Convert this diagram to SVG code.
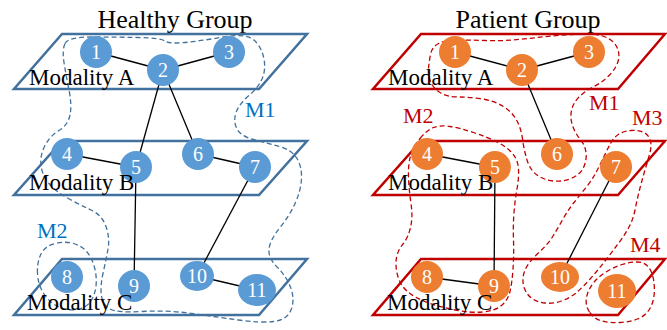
<svg xmlns="http://www.w3.org/2000/svg" width="667" height="330" viewBox="0 0 667 330">
<style>
.pl{fill:none;stroke:#41719C;stroke-width:2.5}
.pr{fill:none;stroke:#C00000;stroke-width:2.5}
.dl{fill:none;stroke:#41719C;stroke-width:1.3;stroke-dasharray:5 3}
.dr{fill:none;stroke:#C00000;stroke-width:1.3;stroke-dasharray:5 3}
.e{stroke:#000;stroke-width:1.3}
.nb{fill:#5B9BD5}
.no{fill:#ED7D31}
.nt{font-family:"Liberation Serif",serif;font-size:20px;fill:#fff;text-anchor:middle}
.mod{font-family:"Liberation Serif",serif;font-size:23px;fill:#000}
.ttl{font-family:"Liberation Serif",serif;font-size:26px;fill:#000;text-anchor:middle}
.ml{font-family:"Liberation Serif",serif;font-size:22px;fill:#0070C0}
.mr{font-family:"Liberation Serif",serif;font-size:22px;fill:#C00000}
</style>
<rect width="667" height="330" fill="#fff"/>
<text class="ttl" x="175" y="28">Healthy Group</text>
<text class="ttl" x="528" y="28">Patient Group</text>
<g id="planes">
<polygon class="pl" points="62,34 307,34 259,89 14,89"/>
<polygon class="pl" points="62,141 307,141 259,195 14,195"/>
<polygon class="pl" points="62,259 307,259 259,315 14,315"/>
<polygon class="pr" points="421,34 665,34 618,89 373,89"/>
<polygon class="pr" points="421,141 665,141 618,195 373,195"/>
<polygon class="pr" points="421,259 665,259 618,315 373,315"/>
</g>
<g id="modules">
<path id="hM1" class="dl" d="M65,43.5 Q68,37 91.5,37 Q115,37 137.5,37.5 Q160,38 165,41 Q170,44 185,42.5 Q200,41 223.5,37 Q247,33 254.5,40.5 Q262,48 264,59 Q266,70 262,79 Q258,88 249,95.5 Q240,103 236.5,111.5 Q233,120 236.5,128 Q240,136 253.5,139.5 Q267,143 279.5,146.5 Q292,150 297,158.5 Q302,167 301.5,178.5 Q301,190 295.5,202.5 Q290,215 280,227.5 Q270,240 269,249 Q268,258 277.5,267.5 Q287,277 291,288.5 Q295,300 291,310 Q287,320 273.5,321.5 Q260,323 238.5,320 Q217,317 192,313.5 Q167,310 142,311.5 Q117,313 110,309 Q103,305 101.5,296 Q100,287 103,273.5 Q106,260 108,249 Q110,238 106,226.5 Q102,215 91,210 Q80,205 67.5,198 Q55,191 48.5,183 Q42,175 41,165 Q40,155 45,145.5 Q50,136 59,130.5 Q68,125 70,115 Q72,105 69,90 Q66,75 64,62.5 Q62,50 65,43.5 Z"/>
<path id="hM2" class="dl" d="M37.5,273.5 Q37,262 41,254 Q45,246 55,243.5 Q65,241 73.5,243.5 Q82,246 87,252 Q92,258 94.5,267.5 Q97,277 96,286 Q95,295 90.5,301.5 Q86,308 77,309.5 Q68,311 59,307 Q50,303 44,294 Q38,285 37.5,273.5 Z"/>
<path id="pM1" class="dr" d="M428.5,68.5 Q429,62 430.5,54.5 Q432,47 438.5,43.5 Q445,40 457.5,40 Q470,40 485,40.5 Q500,41 512.5,40 Q525,39 537.5,37.5 Q550,36 571.5,34.5 Q593,33 602.5,36 Q612,39 616,45.5 Q620,52 618.5,59.5 Q617,67 610,74.5 Q603,82 594,86.5 Q585,91 579,97 Q573,103 571.5,110.5 Q570,118 572.5,125.5 Q575,133 580,139 Q585,145 586,152.5 Q587,160 583.5,167.5 Q580,175 571,178.5 Q562,182 553,181 Q544,180 537,175 Q530,170 527,160 Q524,150 522.5,139 Q521,128 516.5,120 Q512,112 503.5,106.5 Q495,101 482.5,99 Q470,97 458.5,97 Q447,97 440,92.5 Q433,88 430.5,81.5 Q428,75 428.5,68.5 Z"/>
<path id="pM2" class="dr" d="M420,138.5 Q427,130 433.5,127.5 Q440,125 450,126.5 Q460,128 473.5,132.5 Q487,137 497,142 Q507,147 512.5,153.5 Q518,160 518.5,169 Q519,178 517,189 Q515,200 514,212.5 Q513,225 513.5,240 Q514,255 513,269 Q512,283 510,291.5 Q508,300 501.5,305.5 Q495,311 482.5,312 Q470,313 455,310 Q440,307 427.5,302.5 Q415,298 407.5,291.5 Q400,285 397.5,275 Q395,265 396.5,257.5 Q398,250 403,244 Q408,238 410.5,227.5 Q413,217 411,203.5 Q409,190 408.5,177.5 Q408,165 410.5,156 Q413,147 420,138.5 Z"/>
<path id="pM3" class="dr" d="M610.5,143.5 Q614,137 619,134 Q624,131 631,130.5 Q638,130 643,132 Q648,134 650,139.5 Q652,145 650,152.5 Q648,160 645,170 Q642,180 639.5,190 Q637,200 635,210 Q633,220 628.5,228 Q624,236 618,244 Q612,252 605,261 Q598,270 590.5,278.5 Q583,287 576.5,292.5 Q570,298 561.5,301 Q553,304 545,303 Q537,302 532,298.5 Q527,295 524.5,288.5 Q522,282 523.5,275 Q525,268 530,262 Q535,256 541.5,250 Q548,244 553,236 Q558,228 563,219 Q568,210 574,202.5 Q580,195 586,187.5 Q592,180 596,172.5 Q600,165 603.5,157.5 Q607,150 610.5,143.5 Z"/>
<path id="pM4" class="dr" d="M589.5,312 Q585,305 586.5,297.5 Q588,290 593,283.5 Q598,277 606,272 Q614,267 622,264.5 Q630,262 637,262 Q644,262 648,266.5 Q652,271 653.5,279.5 Q655,288 654,296 Q653,304 649,310 Q645,316 637.5,319 Q630,322 620,322.5 Q610,323 602,321 Q594,319 589.5,312 Z"/>
</g>
<g id="connectors">
<line class="e" x1="96" y1="52" x2="163" y2="70"/>
<line class="e" x1="163" y1="70" x2="229" y2="52"/>
<line class="e" x1="163" y1="70" x2="136" y2="167"/>
<line class="e" x1="163" y1="70" x2="198" y2="154"/>
<line class="e" x1="67" y1="154" x2="136" y2="167"/>
<line class="e" x1="198" y1="154" x2="255" y2="167"/>
<line class="e" x1="136" y1="167" x2="134" y2="286"/>
<line class="e" x1="255" y1="167" x2="197" y2="276"/>
<line class="e" x1="197" y1="276" x2="257" y2="290"/>
<line class="e" x1="455" y1="52" x2="522" y2="70"/>
<line class="e" x1="522" y1="70" x2="589" y2="52"/>
<line class="e" x1="522" y1="70" x2="557" y2="154"/>
<line class="e" x1="427" y1="154" x2="495" y2="167"/>
<line class="e" x1="495" y1="167" x2="494" y2="286"/>
<line class="e" x1="427" y1="277" x2="494" y2="286"/>
<line class="e" x1="616" y1="167" x2="560" y2="277"/>
</g>
<g id="h1"><circle class="nb" cx="96" cy="52" r="16"/><text class="nt" x="96" y="59">1</text></g>
<g id="h2"><circle class="nb" cx="163" cy="70" r="16"/><text class="nt" x="163" y="77">2</text></g>
<g id="h3"><circle class="nb" cx="229" cy="52" r="16"/><text class="nt" x="229" y="59">3</text></g>
<g id="h4"><circle class="nb" cx="67" cy="154" r="16"/><text class="nt" x="67" y="161">4</text></g>
<g id="h5"><circle class="nb" cx="136" cy="167" r="16"/><text class="nt" x="136" y="174">5</text></g>
<g id="h6"><circle class="nb" cx="198" cy="154" r="16"/><text class="nt" x="198" y="161">6</text></g>
<g id="h7"><circle class="nb" cx="255" cy="167" r="16"/><text class="nt" x="255" y="174">7</text></g>
<g id="h8"><circle class="nb" cx="67" cy="277" r="16"/><text class="nt" x="67" y="284">8</text></g>
<g id="h9"><circle class="nb" cx="134" cy="286" r="16"/><text class="nt" x="134" y="293">9</text></g>
<g id="h10"><ellipse class="nb" cx="197" cy="276" rx="17" ry="15"/><text class="nt" x="197" y="283">10</text></g>
<g id="h11"><ellipse class="nb" cx="257" cy="290" rx="19" ry="16"/><text class="nt" x="257" y="297">11</text></g>
<g id="p1"><circle class="no" cx="455" cy="52" r="16"/><text class="nt" x="455" y="59">1</text></g>
<g id="p2"><circle class="no" cx="522" cy="70" r="16"/><text class="nt" x="522" y="77">2</text></g>
<g id="p3"><circle class="no" cx="589" cy="52" r="16"/><text class="nt" x="589" y="59">3</text></g>
<g id="p4"><circle class="no" cx="427" cy="154" r="16"/><text class="nt" x="427" y="161">4</text></g>
<g id="p5"><circle class="no" cx="495" cy="167" r="16"/><text class="nt" x="495" y="174">5</text></g>
<g id="p6"><circle class="no" cx="557" cy="154" r="16"/><text class="nt" x="557" y="161">6</text></g>
<g id="p7"><circle class="no" cx="616" cy="167" r="16"/><text class="nt" x="616" y="174">7</text></g>
<g id="p8"><circle class="no" cx="427" cy="277" r="16"/><text class="nt" x="427" y="284">8</text></g>
<g id="p9"><circle class="no" cx="494" cy="286" r="16"/><text class="nt" x="494" y="293">9</text></g>
<g id="p10"><ellipse class="no" cx="560" cy="277" rx="19" ry="15"/><text class="nt" x="560" y="284">10</text></g>
<g id="p11"><ellipse class="no" cx="617" cy="291" rx="19" ry="17"/><text class="nt" x="617" y="298">11</text></g>
<g id="labels">
<text class="mod" x="29" y="85">Modality A</text>
<text class="mod" x="29" y="190">Modality B</text>
<text class="mod" x="27" y="310">Modality C</text>
<text class="mod" x="388" y="85">Modality A</text>
<text class="mod" x="388" y="190">Modality B</text>
<text class="mod" x="387" y="310">Modality C</text>
<text class="ml" x="245" y="117">M1</text>
<text class="ml" x="37" y="238">M2</text>
<text class="mr" x="589" y="110">M1</text>
<text class="mr" x="403" y="123">M2</text>
<text class="mr" x="632" y="125">M3</text>
<text class="mr" x="630" y="252">M4</text>
</g>
</svg>
